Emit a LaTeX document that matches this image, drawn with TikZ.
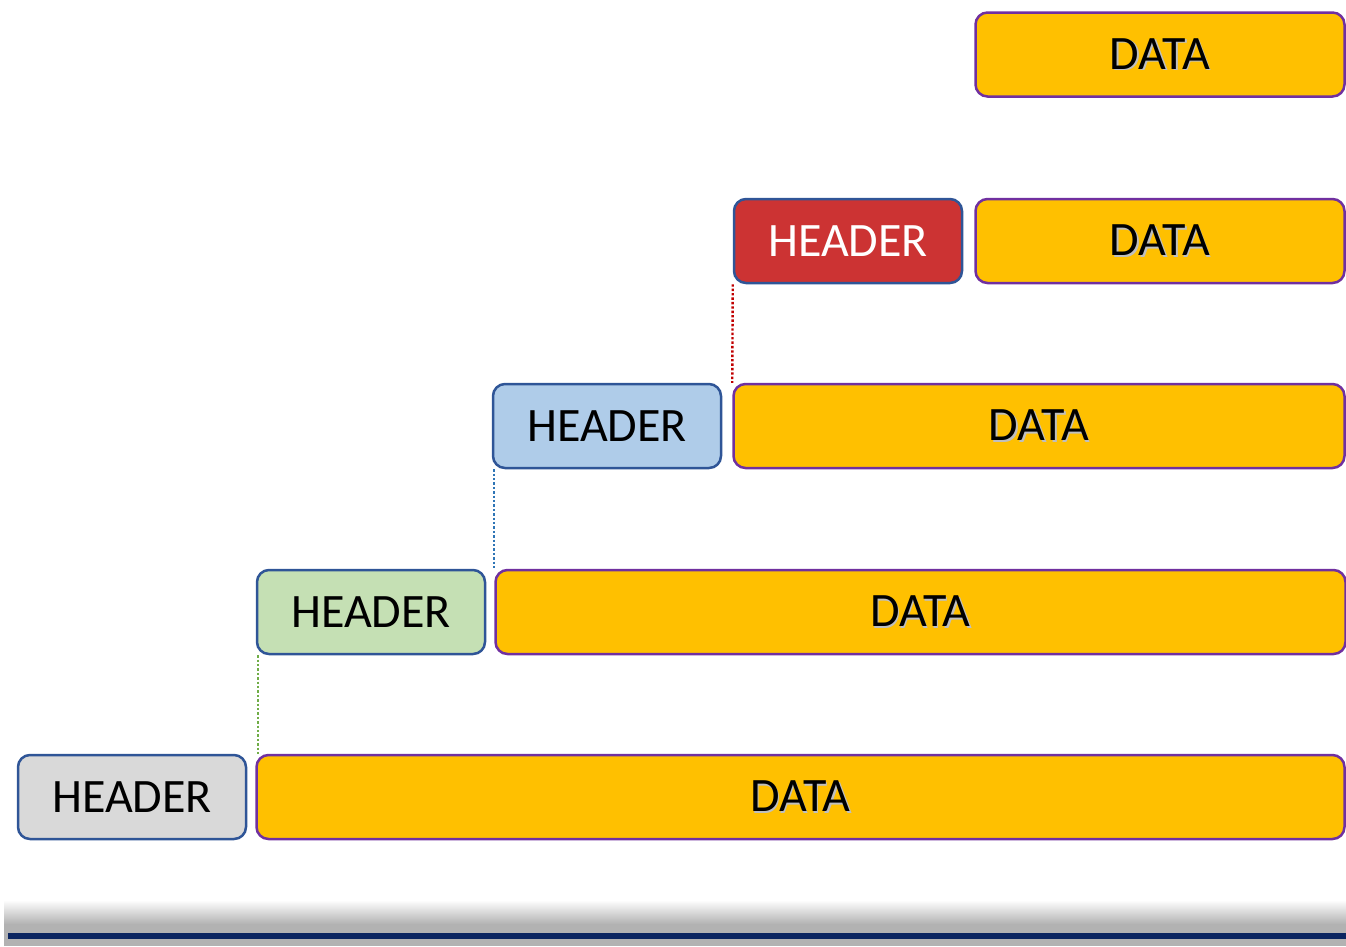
\documentclass[tikz,border=0pt]{standalone}
\usepackage{fontspec}
\setmainfont{Carlito}
\usetikzlibrary{positioning}
\definecolor{hdrline}{HTML}{2F5597}
\definecolor{dataline}{HTML}{7030A0}
\definecolor{datafill}{HTML}{FFC000}
\definecolor{hdrgray}{HTML}{D9D9D9}
\definecolor{hdrgreen}{HTML}{C5E0B4}
\definecolor{hdrblue}{HTML}{AFCCE9}
\definecolor{hdrred}{HTML}{CC3333}
\definecolor{dotred}{HTML}{C00000}
\definecolor{dotblue}{HTML}{2E75B6}
\definecolor{dotgreen}{HTML}{70AD47}
\definecolor{barblue}{HTML}{0B2560}
\newcommand{\datatext}{\makebox[0pt][l]{\hspace{1.4pt}\raisebox{-1.4pt}{\textcolor{black!25}{DATA}}}DATA}

\begin{document}
\begin{tikzpicture}[x=1pt,y=-1pt]
\tikzstyle{header}=[rectangle,rounded corners=12pt,line width=2.5pt,
draw=hdrline,inner sep=0pt,
minimum width=228pt,minimum height=84pt,font=\fontsize{48}{54}\selectfont]
\tikzstyle{data}=[rectangle,rounded corners=12pt,line width=2.5pt,
draw=dataline,fill=datafill,inner sep=0pt,
minimum height=84pt,font=\fontsize{48}{54}\selectfont]
\tikzstyle{link}=[line width=2.4pt,dash pattern=on 2.4pt off 2pt]
\useasboundingbox (0,0) rectangle (1346,946);

% headers
\node[header,fill=hdrgray] at (132,797) (h5) {HEADER};
\node[header,fill=hdrgreen] at (371,612) (h4) {HEADER};
\node[header,fill=hdrblue] at (607,426) (h3) {HEADER};
\node[header,fill=hdrred,text=white] at (848,241) (h2) {HEADER};

% data
\node[data,minimum width=1088pt,right=8pt of h5] (d5) {\datatext};
\node[data,minimum width=850pt,right=8pt of h4] (d4) {\datatext};
\node[data,minimum width=611pt,right=10pt of h3] (d3) {\datatext};
\node[data,minimum width=369pt,right=11pt of h2] (d2) {\datatext};
\node[data,minimum width=369pt,above=100pt of d2] (d1) {\datatext};

\draw[link,dotred] (h2.south west) -- (d3.north west);
\draw[link,dotblue] ([xshift=2pt]h3.south west) -- ([xshift=2pt]h3.south west |- d4.north);
\draw[link,dotgreen] ([xshift=2pt]h4.south west) -- ([xshift=2pt]h4.south west |- d5.north);

% bottom bar
\shade[top color=white,bottom color=black!30] (4,900) rectangle (1346,924);
\fill[black!30] (4,924) rectangle (1346,946);
\fill[barblue] (8,933) rectangle (1346,939);
\end{tikzpicture}
\end{document}
